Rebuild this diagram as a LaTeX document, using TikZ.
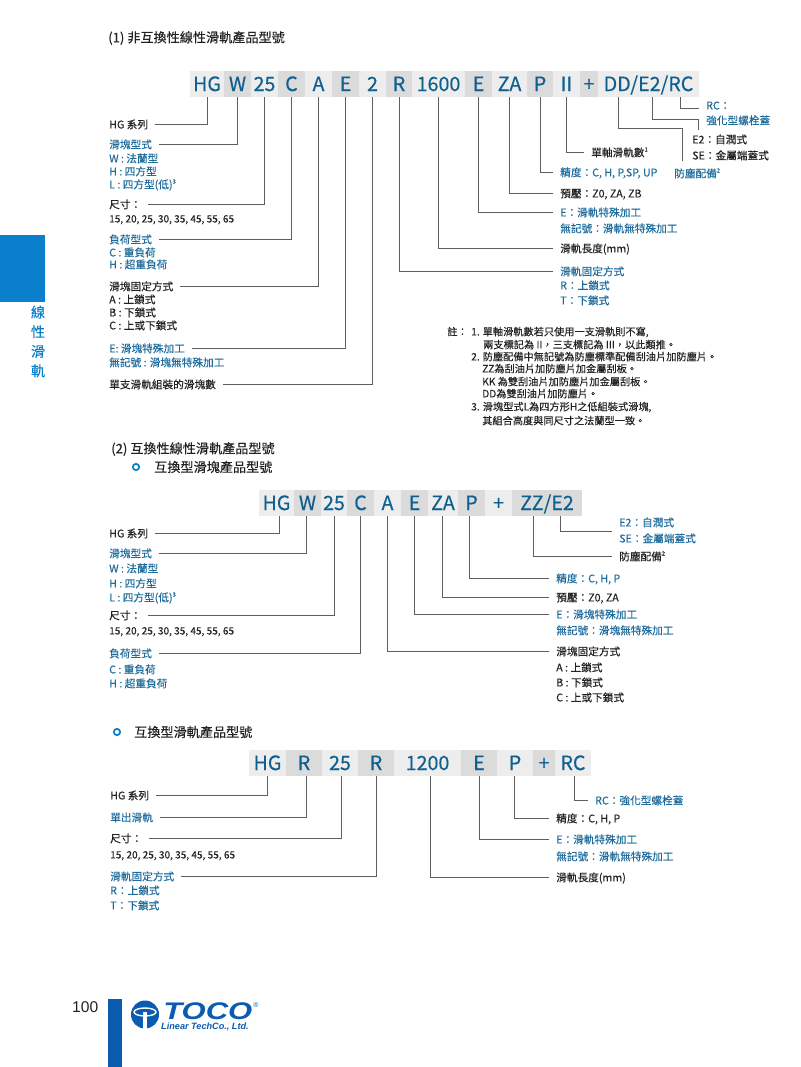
\documentclass[tikz,border=0pt]{standalone}
\usepackage{fontspec}
\setmainfont[FakeBold=0.3]{Noto Sans CJK TC}
\newfontfamily\pagefont{Liberation Sans}
\definecolor{codeblue}{HTML}{0F5F8F}
\definecolor{lblblue}{HTML}{1F6C9C}
\definecolor{lblblack}{HTML}{222222}
\definecolor{tabblue}{HTML}{0A80CC}
\definecolor{barblue}{HTML}{0B5BB0}
\definecolor{leadgray}{HTML}{5F5F5F}
\newcommand{\supnum}[1]{\raisebox{.45em}{\fontsize{5}{5}\selectfont #1}}
\tikzset{
  cellbase/.style={rectangle,inner sep=0pt,minimum height=7.8mm,text=codeblue,font=\fontsize{16.8}{18}\selectfont,text height=12pt,text depth=0pt},
  lite/.style={cellbase,fill=black!7},
  dark/.style={cellbase,fill=black!14},
  lbl/.style={anchor=west,xshift=-2.1mm,inner xsep=2.1mm,inner ysep=0pt,text height=.88em,text depth=.12em,font=\fontsize{9.1}{11}\selectfont},
  blk/.style={lbl,text=lblblack},
  blu/.style={lbl,text=lblblue},
  nums/.style={blk,font=\fontsize{8.6}{11}\selectfont},
  note/.style={anchor=west,inner sep=0pt,text=lblblack,text height=.88em,text depth=.12em,font=\fontsize{8.7}{10}\selectfont},
  head/.style={anchor=west,inner sep=0pt,text=lblblack,font=\fontsize{11.2}{13}\selectfont},
  lead/.style={draw=leadgray,line width=.75pt},
  dot/.style={circle,draw=tabblue,line width=1.5pt,minimum size=1.9mm,inner sep=0pt},
}
\begin{document}
\begin{tikzpicture}[x=.3mm,y=-.3mm]
\useasboundingbox (0,0) rectangle (800,1067);
% side tab
\fill[tabblue] (0,235) rectangle (44.5,302);
\node[text=tabblue,align=center,inner sep=0pt,font=\fontsize{12}{16.7}\selectfont] (sidetxt) at (38,341.5) {線\\性\\滑\\軌};
% headings
\node[head] (headA) at (108,38) {(1) 非互換性線性滑軌產品型號};
\node[head] (headB) at (111,449) {(2) 互換性線性滑軌產品型號};
\node[dot] (dotC) at (136,467) {};
\node[head] (headC) at (154,467) {互換型滑塊產品型號};
\node[dot] (dotD) at (117,732) {};
\node[head] (headD) at (134,732) {互換型滑軌產品型號};
% code row 1
\node[lite,minimum width=10.2mm] (aHG) at (207,84) {HG};
\node[dark,minimum width=8.1mm] (aW) at (237.5,84) {W};
\node[lite,minimum width=8.1mm] (aSize) at (264.5,84) {25};
\node[dark,minimum width=8.1mm] (aC) at (291.5,84) {C};
\node[lite,minimum width=8.1mm] (aA) at (318.5,84) {A};
\node[dark,minimum width=8.1mm] (aE) at (345.5,84) {E};
\node[lite,minimum width=8.1mm] (aNum) at (372.5,84) {2};
\node[dark,minimum width=7.8mm] (aR) at (399,84) {R};
\node[lite,minimum width=15.9mm] (aLen) at (438.5,84) {1600};
\node[dark,minimum width=8.1mm] (aEr) at (478.5,84) {E};
\node[lite,minimum width=10.5mm] (aZA) at (509.5,84) {ZA};
\node[dark,minimum width=7.8mm] (aP) at (540,84) {P};
\node[lite,minimum width=8.1mm] (aII) at (566.5,84) {II};
\node[dark,minimum width=5.4mm] (aPlus) at (589,84) {+};
\node[lite,minimum width=30.3mm] (aDD) at (648.5,84) {DD/E2/RC};
% left labels row 1
\node[blk] (lHG) at (109,124) {HG 系列};
\node[blu] (lW) at (109,144) {滑塊型式};
\node[blu] (lW1) at (109,158) {W : 法蘭型};
\node[blu] (lW2) at (109,171) {H : 四方型};
\node[blu] (lW3) at (109,184) {L : 四方型(低)\supnum{3}};
\node[blk] (lSize) at (109,204) {尺寸：};
\node[nums] (lSize1) at (109,218) {15, 20, 25, 30, 35, 45, 55, 65};
\node[blu] (lC) at (109,239) {負荷型式};
\node[blu] (lC1) at (109,252) {C : 重負荷};
\node[blu] (lC2) at (109,264) {H : 超重負荷};
\node[blk] (lA) at (109,286) {滑塊固定方式};
\node[blk] (lA1) at (109,299) {A : 上鎖式};
\node[blk] (lA2) at (109,312) {B : 下鎖式};
\node[blk] (lA3) at (109,325) {C : 上或下鎖式};
\node[blu] (lE) at (109,348) {E: 滑塊特殊加工};
\node[blu] (lE1) at (109,362) {無記號 : 滑塊無特殊加工};
\node[blk] (lNum) at (109,384) {單支滑軌組裝的滑塊數};
% right labels row 1
\node[blu] (rRC) at (706,105) {RC：};
\node[blu] (rRC1) at (706,120) {強化型螺栓蓋};
\node[blk] (rE2) at (692,139) {E2：自潤式};
\node[blk] (rE21) at (692,155) {SE：金屬端蓋式};
\node[blk] (rII) at (591,152) {單軸滑軌數\supnum{1}};
\node[blu] (rP) at (560,172) {精度：C, H, P,SP, UP};
\node[blu] (rDD) at (674,173) {防塵配備\supnum{2}};
\node[blk] (rZA) at (560,193) {預壓：Z0, ZA, ZB};
\node[blu] (rEr) at (560,212) {E：滑軌特殊加工};
\node[blu] (rEr1) at (560,228) {無記號：滑軌無特殊加工};
\node[blk] (rLen) at (560,248) {滑軌長度(mm)};
\node[blu] (rR) at (560,271) {滑軌固定方式};
\node[blu] (rR1) at (560,285) {R：上鎖式};
\node[blu] (rR2) at (560,300) {T：下鎖式};
% leads row 1
\draw[lead] (aHG.south) |- (lHG.east);
\draw[lead] (aW.south) |- (lW.east);
\draw[lead] (aSize.south) |- (lSize.east);
\draw[lead] (aC.south) |- (lC.east);
\draw[lead] (aA.south) |- (lA.east);
\draw[lead] (aE.south) |- (lE.east);
\draw[lead] (aNum.south) |- (lNum.east);
\draw[lead] (aR.south) |- (rR.west);
\draw[lead] (aLen.south) |- (rLen.west);
\draw[lead] (aEr.south) |- (rEr.west);
\draw[lead] (aZA.south) |- (rZA.west);
\draw[lead] (aP.south) |- (rP.west);
\draw[lead] (aII.south) |- (rII.west);
\coordinate (kDD) at (682,128);
\coordinate (eDD) at (682,161);
\coordinate (kE2) at (698,119);
\coordinate (eE2) at (698,130);
\draw[lead] ([xshift=-9.15mm]aDD.south) |- (kDD) -- (eDD);
\draw[lead] ([xshift=1.05mm]aDD.south) |- (kE2) -- (eE2);
\draw[lead] ([xshift=9.45mm]aDD.south) |- ([yshift=-.9mm]rRC.west);
% notes
\node[note] (n0) at (447,331) {註：};
\node[note] (n1) at (471,331) {1. 單軸滑軌數若只使用一支滑軌則不寫,};
\node[note] (n2) at (483,344) {兩支標記為 II，三支標記為 III，以此類推。};
\node[note] (n3) at (471,356) {2. 防塵配備中無記號為防塵標準配備刮油片加防塵片。};
\node[note] (n4) at (482,368) {ZZ為刮油片加防塵片加金屬刮板。};
\node[note] (n5) at (482,381) {KK 為雙刮油片加防塵片加金屬刮板。};
\node[note] (n6) at (482,393) {DD為雙刮油片加防塵片。};
\node[note] (n7) at (471,406) {3. 滑塊型式L為四方形H之低組裝式滑塊,};
\node[note] (n8) at (482,420) {其組合高度與同尺寸之法蘭型一致。};
% code row 2
\node[lite,minimum width=10.5mm] (bHG) at (276.5,503) {HG};
\node[dark,minimum width=8.1mm] (bW) at (307.5,503) {W};
\node[lite,minimum width=7.8mm] (bSize) at (334,503) {25};
\node[dark,minimum width=8.1mm] (bC) at (360.5,503) {C};
\node[lite,minimum width=8.1mm] (bA) at (387.5,503) {A};
\node[dark,minimum width=8.1mm] (bE) at (414.5,503) {E};
\node[lite,minimum width=9mm] (bZA) at (443,503) {ZA};
\node[dark,minimum width=8.1mm] (bP) at (471.5,503) {P};
\node[lite,minimum width=8.1mm] (bPlus) at (498.5,503) {+};
\node[dark,minimum width=21mm] (bZZ) at (547,503) {ZZ/E2};
% labels row 2
\node[blk] (mHG) at (109,533) {HG 系列};
\node[blu] (mW) at (109,553) {滑塊型式};
\node[blu] (mW1) at (109,568) {W : 法蘭型};
\node[blu] (mW2) at (109,583) {H : 四方型};
\node[blu] (mW3) at (109,597) {L : 四方型(低)\supnum{3}};
\node[blk] (mSize) at (109,615) {尺寸：};
\node[nums] (mSize1) at (109,630) {15, 20, 25, 30, 35, 45, 55, 65};
\node[blu] (mC) at (109,653) {負荷型式};
\node[blu] (mC1) at (109,669) {C : 重負荷};
\node[blu] (mC2) at (109,683) {H : 超重負荷};
\node[blu] (sE2) at (619,522) {E2：自潤式};
\node[blu] (sE21) at (619,538) {SE：金屬端蓋式};
\node[blk] (sDD) at (619,556) {防塵配備\supnum{2}};
\node[blu] (sP) at (556,578) {精度：C, H, P};
\node[blk] (sZA) at (556,597) {預壓：Z0, ZA};
\node[blu] (sE) at (556,614) {E：滑塊特殊加工};
\node[blu] (sE1) at (556,630) {無記號：滑塊無特殊加工};
\node[blk] (sA) at (556,651) {滑塊固定方式};
\node[blk] (sA1) at (556,667) {A : 上鎖式};
\node[blk] (sA2) at (556,682) {B : 下鎖式};
\node[blk] (sA3) at (556,697) {C : 上或下鎖式};
% leads row 2
\draw[lead] ([xshift=.75mm]bHG.south) |- (mHG.east);
\draw[lead] ([xshift=-.45mm]bW.south) |- (mW.east);
\draw[lead] (bSize.south) |- (mSize.east);
\draw[lead] (bC.south) |- (mC.east);
\draw[lead] (bA.south) |- (sA.west);
\draw[lead] (bE.south) |- (sE.west);
\draw[lead] ([xshift=-.3mm]bZA.south) |- (sZA.west);
\draw[lead] ([xshift=-.75mm]bP.south) |- (sP.west);
\draw[lead] ([xshift=-4.2mm]bZZ.south) |- (sDD.west);
\draw[lead] ([xshift=3.9mm]bZZ.south) |- ([yshift=-2.7mm]sE2.west);
% code row 3
\node[lite,minimum width=11.1mm] (cHG) at (267.5,763) {HG};
\node[dark,minimum width=10.8mm] (cR) at (304,763) {R};
\node[lite,minimum width=10.8mm] (cSize) at (340,763) {25};
\node[dark,minimum width=10.8mm] (cRr) at (376,763) {R};
\node[lite,minimum width=20.1mm] (cLen) at (427.5,763) {1200};
\node[dark,minimum width=10.8mm] (cE) at (479,763) {E};
\node[lite,minimum width=10.8mm] (cP) at (515,763) {P};
\node[dark,minimum width=6.6mm] (cPlus) at (544,763) {+};
\node[lite,minimum width=10.8mm] (cRC) at (573,763) {RC};
% labels row 3
\node[blk] (tHG) at (110,795) {HG 系列};
\node[blu] (tR) at (110,817) {單出滑軌};
\node[blk] (tSize) at (110,838) {尺寸：};
\node[nums] (tSize1) at (110,854) {15, 20, 25, 30, 35, 45, 55, 65};
\node[blu] (tRr) at (110,876) {滑軌固定方式};
\node[blu] (tRr1) at (110,890) {R：上鎖式};
\node[blu] (tRr2) at (110,905) {T：下鎖式};
\node[blu] (uRC) at (595,800) {RC：強化型螺栓蓋};
\node[blk] (uP) at (556,818) {精度：C, H, P};
\node[blu] (uE) at (556,839) {E：滑軌特殊加工};
\node[blu] (uE1) at (556,856) {無記號：滑軌無特殊加工};
\node[blk] (uLen) at (556,877) {滑軌長度(mm)};
% leads row 3
\draw[lead] (cHG.south) |- (tHG.east);
\draw[lead] ([xshift=.6mm]cR.south) |- (tR.east);
\draw[lead] ([xshift=.3mm]cSize.south) |- (tSize.east);
\draw[lead] (cRr.south) |- (tRr.east);
\draw[lead] ([xshift=.75mm]cLen.south) |- (uLen.west);
\draw[lead] (cE.south) |- (uE.west);
\draw[lead] ([xshift=-.3mm]cP.south) |- (uP.west);
\draw[lead] ([xshift=.3mm]cRC.south) |- (uRC.west);
% footer
\node[anchor=west,inner sep=0pt,text=lblblack,font=\pagefont\fontsize{13.3}{14}\selectfont] (pageno) at (72,1007) {100};
\fill[barblue] (108,999) rectangle (122,1067);
% logo
\fill[barblue] (145,1014.5) circle [radius=14];
\draw[white,line width=1.2pt] (145,1012) ellipse [x radius=11,y radius=4];
\fill[white] (143,1012) rectangle (147,1029);
\node[anchor=west,inner sep=0pt,text=barblue,font=\pagefont\bfseries\itshape\fontsize{20.5}{22}\selectfont,xscale=1.29] (logoT) at (163,1011) {TOCO};
\node[anchor=west,inner sep=0pt,text=barblue,font=\pagefont\bfseries\itshape\fontsize{7.8}{8}\selectfont] (logoS) at (161,1027) {Linear TechCo., Ltd.};
\node[inner sep=0pt,text=barblue,font=\pagefont\fontsize{6}{6}\selectfont] (logoR) at (256,1005) {®};
\end{tikzpicture}
\end{document}
